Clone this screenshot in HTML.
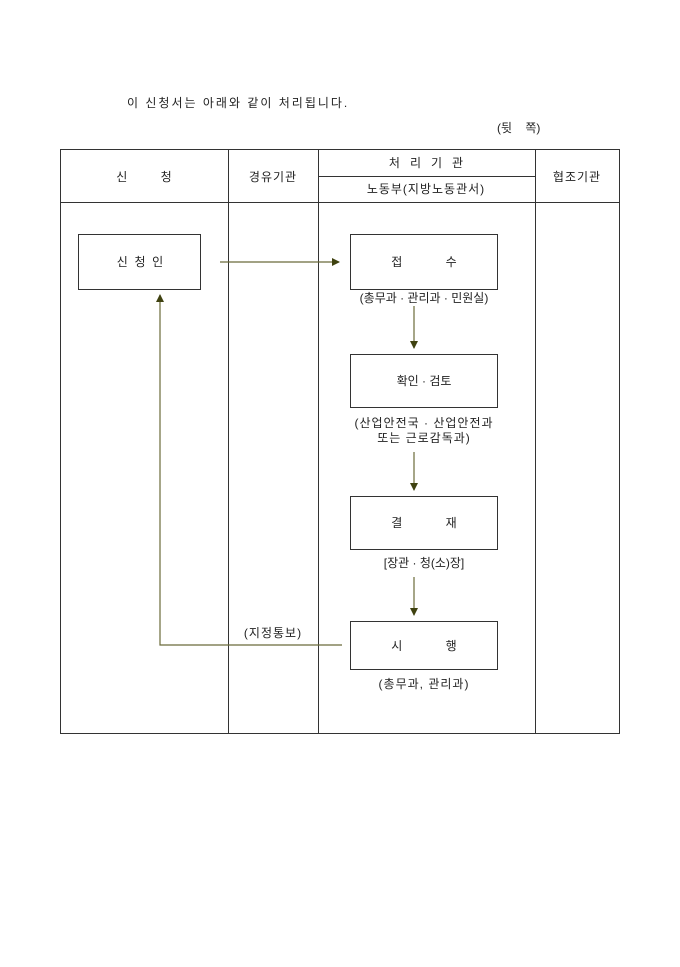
<!DOCTYPE html>
<html><head><meta charset="utf-8"><style>
html,body{margin:0;padding:0;background:#fff;}
svg text{font-family:"Liberation Sans","Noto Sans CJK KR","NanumGothic",sans-serif;font-size:12px;fill:#222;white-space:pre;}
</style></head><body>
<svg width="680" height="962" xmlns="http://www.w3.org/2000/svg" xml:space="preserve">
<defs><marker id="a" markerWidth="8" markerHeight="8" refX="7" refY="4" orient="auto" markerUnits="userSpaceOnUse"><path d="M0,0 L8,4 L0,8 z" fill="#3f4210"/></marker></defs>
<text x="127" y="107" style="letter-spacing:2px">이 신청서는 아래와 같이 처리됩니다.</text>
<text x="497" y="132">(뒷    쪽)</text>
<g stroke="#333" stroke-width="1" fill="none">
<rect x="60.5" y="149.5" width="559" height="584"/>
<line x1="60" y1="202.5" x2="620" y2="202.5"/>
<line x1="228.5" y1="149" x2="228.5" y2="734"/>
<line x1="318.5" y1="149" x2="318.5" y2="734"/>
<line x1="535.5" y1="149" x2="535.5" y2="734"/>
<line x1="318" y1="176.5" x2="535" y2="176.5"/>
<rect x="78.5" y="234.5" width="122" height="55"/>
<rect x="350.5" y="234.5" width="147" height="55"/>
<rect x="350.5" y="354.5" width="147" height="53"/>
<rect x="350.5" y="496.5" width="147" height="53"/>
<rect x="350.5" y="621.5" width="147" height="48"/>
</g>
<g text-anchor="middle">
<text x="144" y="181">신          청</text>
<text x="273" y="181" style="letter-spacing:1px">경유기관</text>
<text x="426" y="167">처   리   기   관</text>
<text x="426" y="193" style="letter-spacing:1px">노동부(지방노동관서)</text>
<text x="577" y="181" style="letter-spacing:1px">협조기관</text>
<text x="140" y="266">신  청  인</text>
<text x="424" y="266">접             수</text>
<text x="424" y="302">(총무과 · 관리과 · 민원실)</text>
<text x="424" y="385">확인 · 검토</text>
<text x="424" y="427" style="letter-spacing:1px">(산업안전국 · 산업안전과</text>
<text x="424" y="442" style="letter-spacing:1px">또는 근로감독과)</text>
<text x="424" y="527">결             재</text>
<text x="424" y="567">[장관 · 청(소)장]</text>
<text x="424" y="650">시             행</text>
<text x="424" y="688" style="letter-spacing:1px">(총무과, 관리과)</text>
<text x="273" y="637" style="letter-spacing:1px">(지정통보)</text>
</g>
<g stroke="#6b6b3a" stroke-width="1.2" fill="none">
<line x1="220" y1="262" x2="339" y2="262" marker-end="url(#a)"/>
<line x1="414" y1="306" x2="414" y2="348" marker-end="url(#a)"/>
<line x1="414" y1="452" x2="414" y2="490" marker-end="url(#a)"/>
<line x1="414" y1="577" x2="414" y2="615" marker-end="url(#a)"/>
<polyline points="342,645 160,645 160,295" marker-end="url(#a)"/>
</g>
</svg>
</body></html>
